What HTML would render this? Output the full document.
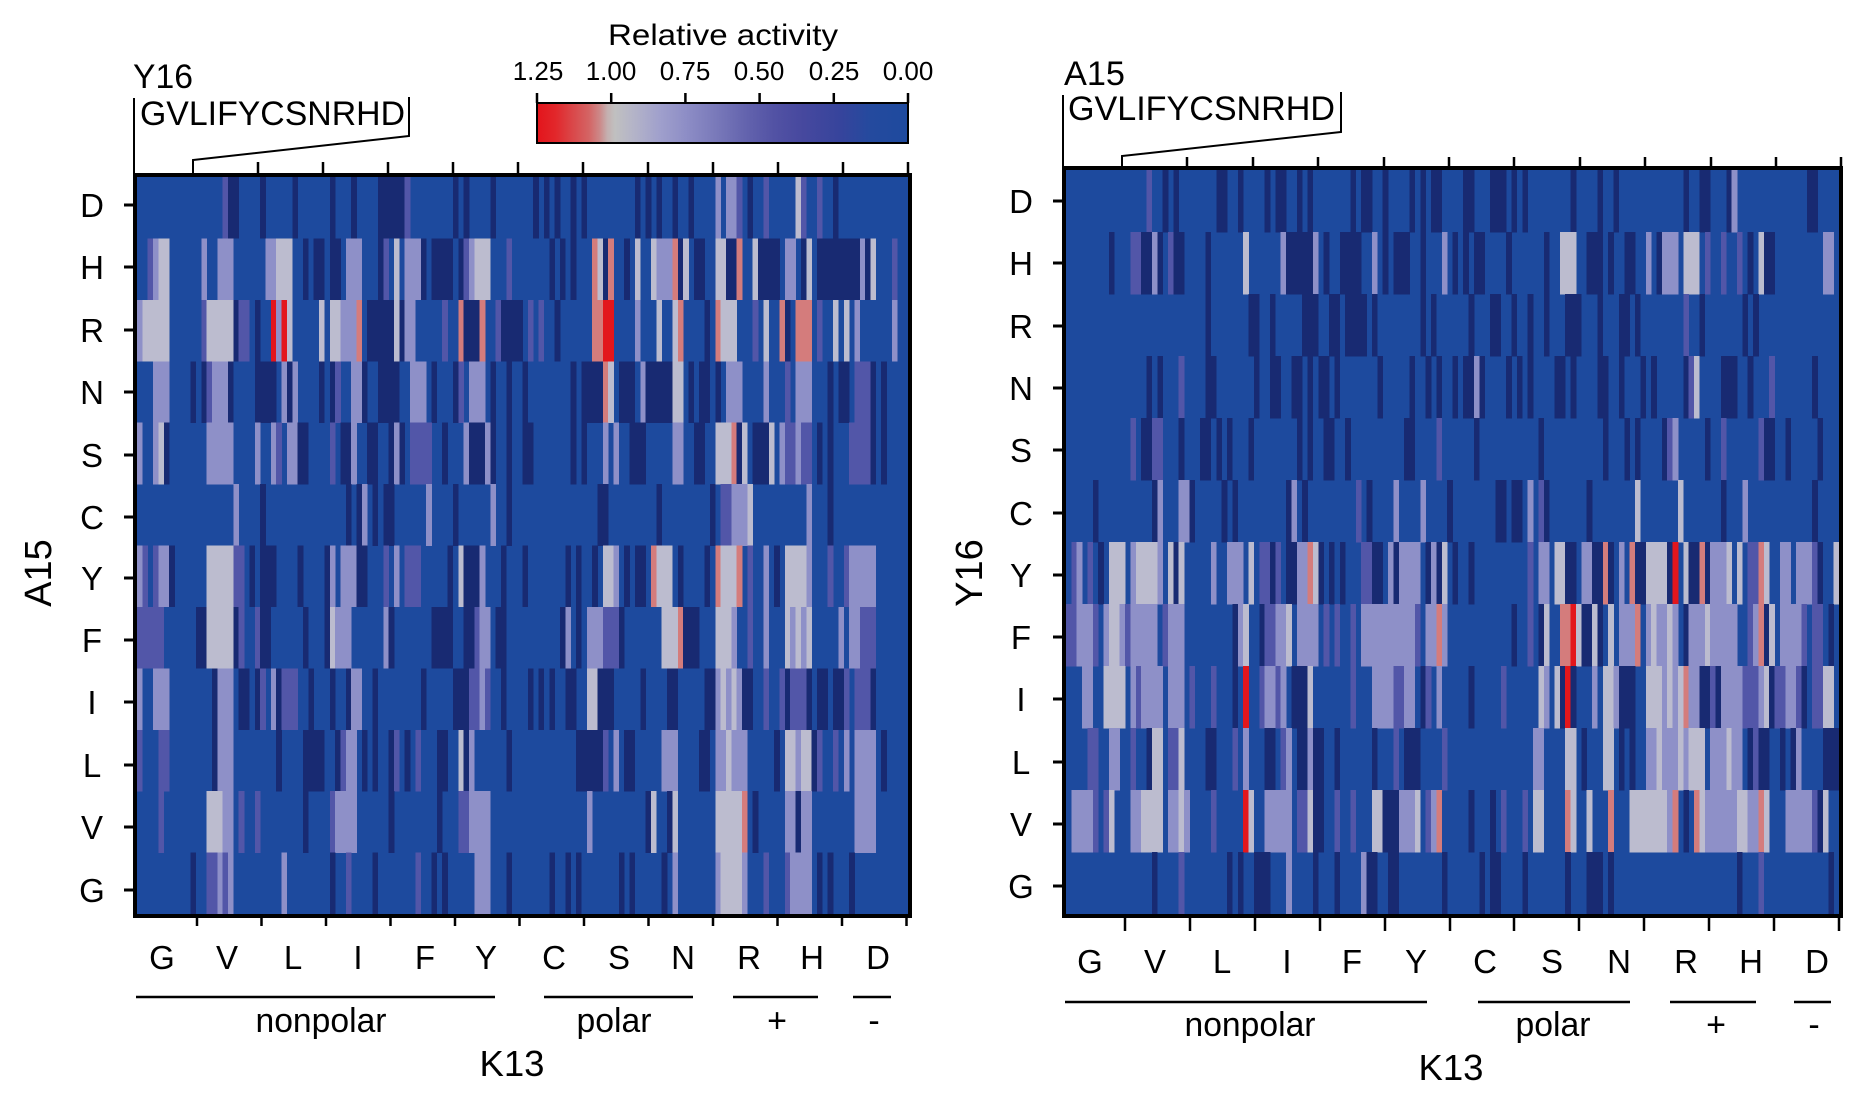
<!DOCTYPE html>
<html><head><meta charset="utf-8">
<style>
html,body{margin:0;padding:0;background:#fff;}
svg{display:block;}
text{font-family:"Liberation Sans",Arial,sans-serif;fill:#000;}
</style></head><body>
<svg id="fig" width="1870" height="1101" viewBox="0 0 1870 1101" xmlns="http://www.w3.org/2000/svg">
<defs>
<linearGradient id="cb" x1="0" x2="1" y1="0" y2="0">
<stop offset="0" stop-color="#e3141b"/>
<stop offset="0.05" stop-color="#e2272b"/>
<stop offset="0.10" stop-color="#d94a4c"/>
<stop offset="0.14" stop-color="#d46464"/>
<stop offset="0.17" stop-color="#cc8a8a"/>
<stop offset="0.19" stop-color="#c4b0b0"/>
<stop offset="0.21" stop-color="#c0c0c0"/>
<stop offset="0.26" stop-color="#b4b4c8"/>
<stop offset="0.33" stop-color="#a0a0cc"/>
<stop offset="0.40" stop-color="#8e8ec6"/>
<stop offset="0.48" stop-color="#7a7aba"/>
<stop offset="0.56" stop-color="#6464ae"/>
<stop offset="0.64" stop-color="#5252a4"/>
<stop offset="0.72" stop-color="#46489e"/>
<stop offset="0.82" stop-color="#36449c"/>
<stop offset="0.90" stop-color="#244a9e"/>
<stop offset="1" stop-color="#1e4a9e"/>
</linearGradient>
</defs>
<rect width="1870" height="1101" fill="#fff"/>

<!-- heatmap backgrounds -->
<rect x="135" y="175" width="775" height="741" fill="#1d4a9e"/>
<g id="hmL" shape-rendering="crispEdges"></g>
<rect x="1064" y="168" width="777" height="748" fill="#1d4a9e"/>
<g id="hmR" shape-rendering="crispEdges"></g>

<!-- frames -->
<rect x="135" y="175" width="775" height="741" fill="none" stroke="#000" stroke-width="4"/>
<rect x="1064" y="168" width="777" height="748" fill="none" stroke="#000" stroke-width="4"/>

<!-- colorbar -->
<text x="723" y="45" font-size="30" text-anchor="middle" textLength="230" lengthAdjust="spacingAndGlyphs">Relative activity</text>
<rect x="537" y="103" width="371" height="40" fill="url(#cb)" stroke="#000" stroke-width="2"/>
<g stroke="#000" stroke-width="2.5">
<line x1="537" y1="93" x2="537" y2="103"/>
<line x1="611.2" y1="93" x2="611.2" y2="103"/>
<line x1="685.4" y1="93" x2="685.4" y2="103"/>
<line x1="759.6" y1="93" x2="759.6" y2="103"/>
<line x1="833.8" y1="93" x2="833.8" y2="103"/>
<line x1="908" y1="93" x2="908" y2="103"/>
</g>
<g font-size="26" text-anchor="middle">
<text x="538" y="80">1.25</text>
<text x="611" y="80">1.00</text>
<text x="685" y="80">0.75</text>
<text x="759" y="80">0.50</text>
<text x="834" y="80">0.25</text>
<text x="908" y="80">0.00</text>
</g>

<!-- left top labels & bracket -->
<text x="133" y="88" font-size="34" textLength="60" lengthAdjust="spacingAndGlyphs">Y16</text>
<text x="140" y="125" font-size="34" textLength="265" lengthAdjust="spacingAndGlyphs">GVLIFYCSNRHD</text>
<g stroke="#000" stroke-width="2" fill="none">
<polyline points="134,98 134,173"/>
<polyline points="409,97 409,136 193,160 193,173"/>
</g>
<g stroke="#000" stroke-width="2.5">
<line x1="258" y1="162" x2="258" y2="174"/>
<line x1="323" y1="162" x2="323" y2="174"/>
<line x1="388" y1="162" x2="388" y2="174"/>
<line x1="453" y1="162" x2="453" y2="174"/>
<line x1="518" y1="162" x2="518" y2="174"/>
<line x1="583" y1="162" x2="583" y2="174"/>
<line x1="648" y1="162" x2="648" y2="174"/>
<line x1="713" y1="162" x2="713" y2="174"/>
<line x1="778" y1="162" x2="778" y2="174"/>
<line x1="843" y1="162" x2="843" y2="174"/>
<line x1="908" y1="162" x2="908" y2="174"/>
</g>

<!-- right top labels & bracket -->
<text x="1064" y="85" font-size="34" textLength="61" lengthAdjust="spacingAndGlyphs">A15</text>
<text x="1068" y="120" font-size="34" textLength="267" lengthAdjust="spacingAndGlyphs">GVLIFYCSNRHD</text>
<g stroke="#000" stroke-width="2" fill="none">
<polyline points="1063,95 1063,167"/>
<polyline points="1341,92 1341,132 1122,156 1122,167"/>
</g>
<g stroke="#000" stroke-width="2.5">
<line x1="1187" y1="157" x2="1187" y2="167"/>
<line x1="1253" y1="157" x2="1253" y2="167"/>
<line x1="1318" y1="157" x2="1318" y2="167"/>
<line x1="1384" y1="157" x2="1384" y2="167"/>
<line x1="1449" y1="157" x2="1449" y2="167"/>
<line x1="1514" y1="157" x2="1514" y2="167"/>
<line x1="1580" y1="157" x2="1580" y2="167"/>
<line x1="1645" y1="157" x2="1645" y2="167"/>
<line x1="1711" y1="157" x2="1711" y2="167"/>
<line x1="1776" y1="157" x2="1776" y2="167"/>
<line x1="1841" y1="157" x2="1841" y2="167"/>
</g>

<!-- left row ticks & labels -->
<g stroke="#000" stroke-width="3">
<line x1="124" y1="205" x2="135" y2="205"/>
<line x1="124" y1="267" x2="135" y2="267"/>
<line x1="124" y1="330" x2="135" y2="330"/>
<line x1="124" y1="392" x2="135" y2="392"/>
<line x1="124" y1="455" x2="135" y2="455"/>
<line x1="124" y1="517" x2="135" y2="517"/>
<line x1="124" y1="578" x2="135" y2="578"/>
<line x1="124" y1="640" x2="135" y2="640"/>
<line x1="124" y1="702" x2="135" y2="702"/>
<line x1="124" y1="765" x2="135" y2="765"/>
<line x1="124" y1="827" x2="135" y2="827"/>
<line x1="124" y1="890" x2="135" y2="890"/>
</g>
<g font-size="33" text-anchor="middle">
<text x="92" y="217">D</text>
<text x="92" y="279">H</text>
<text x="92" y="342">R</text>
<text x="92" y="404">N</text>
<text x="92" y="467">S</text>
<text x="92" y="529">C</text>
<text x="92" y="590">Y</text>
<text x="92" y="652">F</text>
<text x="92" y="714">I</text>
<text x="92" y="777">L</text>
<text x="92" y="839">V</text>
<text x="92" y="902">G</text>
</g>
<text transform="translate(51,573) rotate(-90)" font-size="38" text-anchor="middle">A15</text>

<!-- right row ticks & labels -->
<g stroke="#000" stroke-width="3">
<line x1="1053" y1="201" x2="1064" y2="201"/>
<line x1="1053" y1="263" x2="1064" y2="263"/>
<line x1="1053" y1="326" x2="1064" y2="326"/>
<line x1="1053" y1="388" x2="1064" y2="388"/>
<line x1="1053" y1="450" x2="1064" y2="450"/>
<line x1="1053" y1="513" x2="1064" y2="513"/>
<line x1="1053" y1="575" x2="1064" y2="575"/>
<line x1="1053" y1="637" x2="1064" y2="637"/>
<line x1="1053" y1="699" x2="1064" y2="699"/>
<line x1="1053" y1="762" x2="1064" y2="762"/>
<line x1="1053" y1="824" x2="1064" y2="824"/>
<line x1="1053" y1="886" x2="1064" y2="886"/>
</g>
<g font-size="33" text-anchor="middle">
<text x="1021" y="213">D</text>
<text x="1021" y="275">H</text>
<text x="1021" y="338">R</text>
<text x="1021" y="400">N</text>
<text x="1021" y="462">S</text>
<text x="1021" y="525">C</text>
<text x="1021" y="587">Y</text>
<text x="1021" y="649">F</text>
<text x="1021" y="711">I</text>
<text x="1021" y="774">L</text>
<text x="1021" y="836">V</text>
<text x="1021" y="898">G</text>
</g>
<text transform="translate(982,573) rotate(-90)" font-size="38" text-anchor="middle">Y16</text>

<!-- left bottom -->
<g stroke="#000" stroke-width="2.5">
<line x1="197" y1="917" x2="197" y2="926"/>
<line x1="261.5" y1="917" x2="261.5" y2="926"/>
<line x1="326" y1="917" x2="326" y2="926"/>
<line x1="390.5" y1="917" x2="390.5" y2="926"/>
<line x1="455" y1="917" x2="455" y2="926"/>
<line x1="519.5" y1="917" x2="519.5" y2="926"/>
<line x1="584" y1="917" x2="584" y2="926"/>
<line x1="648.5" y1="917" x2="648.5" y2="926"/>
<line x1="713" y1="917" x2="713" y2="926"/>
<line x1="777.5" y1="917" x2="777.5" y2="926"/>
<line x1="842" y1="917" x2="842" y2="926"/>
<line x1="906.5" y1="917" x2="906.5" y2="926"/>
</g>
<g font-size="33" text-anchor="middle">
<text x="162" y="969">G</text>
<text x="227" y="969">V</text>
<text x="293" y="969">L</text>
<text x="358" y="969">I</text>
<text x="425" y="969">F</text>
<text x="486" y="969">Y</text>
<text x="554" y="969">C</text>
<text x="619" y="969">S</text>
<text x="683" y="969">N</text>
<text x="749" y="969">R</text>
<text x="812" y="969">H</text>
<text x="878" y="969">D</text>
</g>
<g stroke="#000" stroke-width="2.5">
<line x1="136" y1="997" x2="495" y2="997"/>
<line x1="544" y1="997" x2="693" y2="997"/>
<line x1="733" y1="997" x2="818" y2="997"/>
<line x1="853" y1="997" x2="891" y2="997"/>
</g>
<g font-size="34" text-anchor="middle">
<text x="321" y="1032" textLength="131" lengthAdjust="spacingAndGlyphs">nonpolar</text>
<text x="614" y="1032" textLength="75" lengthAdjust="spacingAndGlyphs">polar</text>
<text x="777" y="1032">+</text>
<text x="874" y="1032">-</text>
</g>
<text x="512" y="1076" font-size="36" text-anchor="middle" textLength="65" lengthAdjust="spacingAndGlyphs">K13</text>

<!-- right bottom -->
<g stroke="#000" stroke-width="2.5">
<line x1="1125" y1="917" x2="1125" y2="931"/>
<line x1="1190" y1="917" x2="1190" y2="931"/>
<line x1="1255" y1="917" x2="1255" y2="931"/>
<line x1="1320" y1="917" x2="1320" y2="931"/>
<line x1="1385" y1="917" x2="1385" y2="931"/>
<line x1="1450" y1="917" x2="1450" y2="931"/>
<line x1="1514" y1="917" x2="1514" y2="931"/>
<line x1="1579" y1="917" x2="1579" y2="931"/>
<line x1="1644" y1="917" x2="1644" y2="931"/>
<line x1="1709" y1="917" x2="1709" y2="931"/>
<line x1="1774" y1="917" x2="1774" y2="931"/>
<line x1="1839" y1="917" x2="1839" y2="931"/>
</g>
<g font-size="33" text-anchor="middle">
<text x="1090" y="973">G</text>
<text x="1155" y="973">V</text>
<text x="1222" y="973">L</text>
<text x="1287" y="973">I</text>
<text x="1352" y="973">F</text>
<text x="1416" y="973">Y</text>
<text x="1485" y="973">C</text>
<text x="1552" y="973">S</text>
<text x="1619" y="973">N</text>
<text x="1686" y="973">R</text>
<text x="1751" y="973">H</text>
<text x="1817" y="973">D</text>
</g>
<g stroke="#000" stroke-width="2.5">
<line x1="1065" y1="1002" x2="1427" y2="1002"/>
<line x1="1478" y1="1002" x2="1630" y2="1002"/>
<line x1="1670" y1="1002" x2="1756" y2="1002"/>
<line x1="1794" y1="1002" x2="1831" y2="1002"/>
</g>
<g font-size="34" text-anchor="middle">
<text x="1250" y="1036" textLength="131" lengthAdjust="spacingAndGlyphs">nonpolar</text>
<text x="1553" y="1036" textLength="75" lengthAdjust="spacingAndGlyphs">polar</text>
<text x="1716" y="1036">+</text>
<text x="1814" y="1036">-</text>
</g>
<text x="1451" y="1080" font-size="36" text-anchor="middle" textLength="65" lengthAdjust="spacingAndGlyphs">K13</text>
</svg>

<script>
(function(){
var C={B:'#1d4a9e',d:'#182a72',p:'#5256a8',l:'#8e90c8',w:'#bcbccf',r:'#e3161c',o:'#d47c7c'};
var ns='http://www.w3.org/2000/svg';
function draw(id,x0,y0,W,H,rows){
  var g=document.getElementById(id);
  var cw=W/144, rh=H/12;
  rows.forEach(function(row,ri){
    var parts=row.trim().split(/\s+/); var s='';
    for(var k=0;k<12;k++){var p=(parts[k]||'');p=(p+'BBBBBBBBBBBB').slice(0,12);s+=p;}
    var i=0;
    while(i<144){
      var ch=s[i]; var j=i;
      while(j<144&&s[j]===ch) j++;
      if(ch!=='B'){
        var r=document.createElementNS(ns,'rect');
        r.setAttribute('x',(x0+i*cw).toFixed(2));
        r.setAttribute('y',(y0+ri*rh).toFixed(2));
        r.setAttribute('width',((j-i)*cw+0.3).toFixed(2));
        r.setAttribute('height',(rh+0.3).toFixed(2));
        r.setAttribute('fill',C[ch]||C.B);
        g.appendChild(r);
      }
      i=j;
    }
  });
}
var L=[
"BBBBBBBBBBBB BBBBpddBBBBd BBBBBdBBBBBB dBBBdBBBBddd ddpBBBBBBBBd BdBBBBdBBBBB BBdBdBdBBdBd BBBBBBBBBdBd BdBBdBBdBBBB lBllpBdBBpBB BBBwpBBpBBdB BBBBBBBBBBBB",
"BBplwwBBBBBB lBBlllBBBBBB llwwwBBdBddB ddBlllBBBdpB wBllldBddddB dplwwwBBBpBB BBBBBdBdBdBB BowdoBBdBwBB wlllodwBddBB wwddoBBwdddd BllBdwBddddd dddldwBBBpBB",
"lwwwwwBBBBBB pwwwwwdppBdB BrlrwBBBBBwB wwllloBddddd wdllBBBBBpBB odddoBBpdddd BpBpBBdBBBBB BoorrBBBBlBB BwBBwoBBBBdB owwwBBBpBwBB odBoooBpBBwB wBlBBBBBBlBB",
"BBBlllBBBBdB dpllldBBBBdd ddBldlBBBBdB dpBBlldBBddd dBBlllBdBBBd pBlllBdBBdBB dBBBBBBBBdBd dddowBdddBld ddddwwBdBddB dBlllBBBBlBB BpBlllBBBdBd dBpppdBdBBBB",
"lBBlwdBBBBBB BlllllBBBBlB BlpBllddBBBB pBddlBBddBBd ldBppppBBdBB BldddldBBdBB ddBBBBBBBdBd BBBlBlBBdddB BBBBllBBddBB wwwodwBdddwB lpplppBdBdBB BppppdBdBBBB",
"BBBBBBBBBBBB BBBBBBlBBBBd BBBBBBBBBBBB BBBdBdlBdBdd BBBBBBlBBBBd BBBBBBlBBdBB BBBBBBBBBBBB BBddBBBBBBBB BdBBBBBBBBBd BpplllwBBBBB BBBBBlBBBdBB BBBBBBBBBBBB",
"lpBplldBBBBB BwwwwwppBdBd ddBBBBdBBBBd lBlllddBBBpB lBpppBBBBBdB wdddlBBBdBBB dBBBBBBBdBdB BdBwwlBdBddB owwwBdBBBBdB owwwoBpBBlBd BwwwwlBBBpBB plllllBBBBBB",
"pppppBBBBBBd dwwwwwdpBBpd dBBBBBBdBBBd wlllBBBBBBld BBBBBBBddddB BddpllBddBBB BBBBBBBdlBdB lllpppdBBBBB BBwwwodddBBB wwwlBBpBBlBB BwlwlwBBBBBl BllpppBBBBBB",
"lBBlllBBBBBB BBdlllBddBdp BldpppBBdBBB dBBdllBBdBBB BBBBBdBBBBBd ddpplpBBdBBB BdBdBdBBddBB wwdddBBBBBdB BBBddBBBBBdd lwlwlddBBpBB pdpppdBddBdd pBpppdBBBBBB",
"pBBBppBBBBBB BBdlllBBBBBB BBdBBBBddddB BdpllBdBdBBd pBdBpBBBddBB wdlBBBBBBdBB BBBBBBBBBBdd dddpBlBddBBB BBlllBBBBddB llwlllBBBBBd BwwlwwdpBBpB lBllllBdBBBB",
"BBBBpBBBBBBB BwwwllBpBBpB BBBBBBBdBBBB pllllBBBBBBd BBBBBBBBdBBB ppllllBBBBBB BBBBBBBBBBBB lBBBBBBBBBBd wBBdwBBBBBBB wwwwwoBdBBBB BlldllBBBBBB BBllllBBBBBB",
"BBBBBBBBBBdB BpplplBBBBBB BBBlBBBBBBBB dBBpBBBBdBBB BBBBpBBdBdBB BBBlllBBBdBB BBBBBdBBdBdB BBBBBBdBdBBB BBdBlBBBBBBB lwwwwlBBBpBB BpllllBdBdBB BdBBBBBBBBBB"
];
var R=[
"BBBBBBBBBBBB BBBpBBdBdBBB BBBBddBBdBBB BdBddBBdBdBB BBBBBdBddBBd BBBBdBdBddBB BBddBBBdddBd BdBBBBBBBBdB BBBdBBdBBBBB BBBBBBBdBBdd BBBdlBBBBBBB BBBBBBddBBBB",
"BBBBBBBBdBBB ppddldBpddBB BBdBBBBBBwBB BBBBldddddlB dBBddddBBlBd BdddBBdBBBlB dBdBddBBBBdB BBBBBdBBwwwB BdddBdBBddBB lBdlllBwwwBp BBpBBpBdBwdd BBBBBBBBBllB",
"BBBBBBBBBBBB BBBBBBBBBBBB BBdBBBBBBBdd BBdBBBBBdddB BddBddddBdBB BBBBBBdBdBBB BBBdBBBddBBd BBdBBdBBBddd BBBdBBBddBdB BBBBBBBpBBdB BBBBBBdBdBBB BBBBBBBBBBBB",
"BBBBBBBBBBBB BBBdBdBBBpBB BBddBBBBBBBd BBddBBddBdBd dBdBBBBBBBdB BBBBdBBdBdBB dBddldBBBBdB dBdBBBBddBdB BBBddBBdBBBd BdBBBBBdpwBB BBdddBBdBBBp BBBBBBBdBBBB",
"BBBBBBBBBBBB pBddppBBBdBB BddBdBdBBBdB BBBBBBBdBdBB ddBBdBBBBBBB BBBddBBBBpBB BBBBdBBBBBBB BBBBdBBBBBBB BBBBdBBBdBdB BBBdplBBBBBd BBpBBBBBBpdd BBdBBBBBdBBB",
"BBBBBdBBBBBB BBBBdlBBBlld BBBBBdBdBBBB BBBBBdlBdBBB BBBBBBpBdBBB BlBBBBlBBBBd BBBBBBBBddBd dBlBpdBBBBBB BdBBBBBBBBwB BBBBBBwBBBBB BBdBBBlBBBBB BBBBBBBdBBBB",
"BplBpBdBwwwB lwwwwlBwdwBB BBBlBBlllBwB ppdpBddllowd BdBdBBBppddB ldllllBdldwB dBBdBBBBBBBB BBpBllBwwddB llddodBlBodd wwwwdrBwddod lllwBwBppowB BllBlllpdBBw",
"pplllpBlwwlp lllllBplllBB BBBBBBBdlwBB dppllwBllllB pBpBBpBlllll lllllpBllolB BBBBBBBBBBBd BBpBdwBBoorw ddwdBwBllloB lwllwlBdlllw lllllBBplodw BllllpBppBdB",
"BBBllBBwwwwB lpllllBlllBp BBBpBBBdBrBB pllplBdddwBB BBBBBpBBBlll lppllBdpBlBB BBBdBBBBBpBB BBBBwlBwdrdB BBlBwwldddBB wwwlwlwolldd pdllllppplwd ppllpdBppwwB",
"BBBBppBBllBB pBBdwwBppwBB BBddBBBpBlBB BddBplBddldd BBdBBBBBBdBB BpBdddBBBBpB BBBBBBBBBBBB BBBllBBBBwwB dBBBwwBdBdBB llwlllwlwwwB lllwllBdpddB BdBdlBBBBddd",
"BllllpBpwBBB llwwwwBllwlB BBBpBBBBBrwB BlllllBppwdd BBpBBpBBBwwd ddlllwBploBB BBBdBBBdBpBB BpBwwBBBBowB BwBBBoBBBwww wwwwloBdBowl lllllwwllowB BBlllllpdwBB",
"BBBBBBBBBBBB BBBBdBBBBpBB BBBBBBdBdBBd ddBBBlBBBBdB BBdBBBBlddBB ddBBBBBBBBdB BBBBBdBddBBB BdBBBBBBBdBB BdddBdBBBBBB BBBBBBBBBBBB BBBBBdBBBpBB BBBBBBBBBBdB"
];
draw('hmL',137,177,771,737,L);
draw('hmR',1066,170,773,744,R);
})();
</script>
</body></html>
